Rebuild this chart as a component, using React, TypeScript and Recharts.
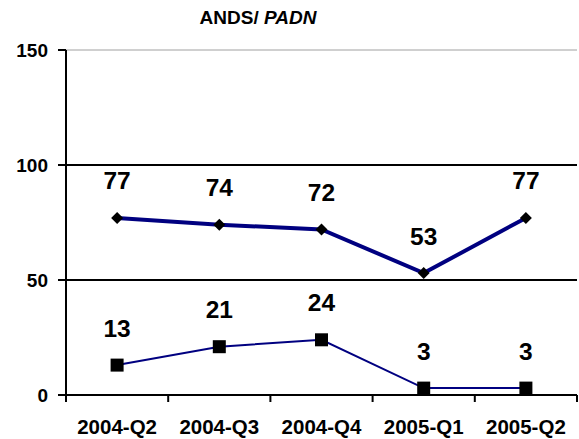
import React from 'react'
import { LineChart, Line, XAxis, YAxis, ReferenceLine, LabelList } from 'recharts'

const quarters = ['2004-Q2', '2004-Q3', '2004-Q4', '2005-Q1', '2005-Q2']
const andsValues = [77, 74, 72, 53, 77]
const padnValues = [13, 21, 24, 3, 3]
const yTicks = [0, 50, 100, 150]

const W = 579
const H = 439
const M = { top: 50, right: 2, left: 6, bottom: 14 }
const Y_W = 60
const FONT = '"Liberation Sans", Arial, sans-serif'
const NAVY = '#000080'

const data = quarters.map((q, i) => ({ q, ands: andsValues[i], padn: padnValues[i] }))
const band = (W - M.left - M.right - Y_W) / quarters.length

const Diamond = ({ cx, cy }: any) => (
  <path d={`M${cx},${cy - 6} L${cx + 6},${cy} L${cx},${cy + 6} L${cx - 6},${cy} Z`} fill="#000" />
)

const Square = ({ cx, cy }: any) => <rect x={cx - 6.5} y={cy - 6.5} width={13} height={13} fill="#000" />

const ValueLabel = ({ x, y, value }: any) => (
  <text x={x} y={y - 37} textAnchor="middle" dominantBaseline="central" fontFamily={FONT} fontWeight="bold" fontSize={24.5} fill="#000">
    {value}
  </text>
)

const QuarterTick = ({ x, y, payload, index }: any) => (
  <g>
    <line x1={x - band / 2} x2={x - band / 2} y1={y - 8} y2={y - 1} stroke="#000" strokeWidth={2} />
    {index === quarters.length - 1 && (
      <line x1={x + band / 2} x2={x + band / 2} y1={y - 8} y2={y - 1} stroke="#000" strokeWidth={2} />
    )}
    <text x={x} y={y} dy={31} textAnchor="middle" fontFamily={FONT} fontWeight="bold" fontSize={20.5} fill="#000">
      {payload.value}
    </text>
  </g>
)

export default function App() {
  return (
    <div style={{ position: 'absolute', left: 0, top: 0, width: W, height: H, background: '#fff' }}>
      <div
        style={{
          position: 'absolute',
          left: 0,
          top: 7,
          width: 516,
          textAlign: 'center',
          fontFamily: FONT,
          fontWeight: 'bold',
          fontSize: 19,
          lineHeight: '22px',
          color: '#000',
        }}
      >
        ANDS/ <i>PADN</i>
      </div>
      <LineChart width={W} height={H} data={data} margin={M}>
        <XAxis
          dataKey="q"
          height={30}
          padding={{ left: band / 2, right: band / 2 }}
          axisLine={{ stroke: '#000', strokeWidth: 2 }}
          tickLine={false}
          tick={<QuarterTick />}
          interval={0}
        />
        <YAxis
          width={Y_W}
          domain={[0, 150]}
          ticks={yTicks}
          interval={0}
          axisLine={{ stroke: '#000', strokeWidth: 2 }}
          tickLine={{ stroke: '#000', strokeWidth: 2 }}
          tickSize={8}
          tickMargin={10}
          tick={{ fill: '#000', fontFamily: FONT, fontWeight: 'bold', fontSize: 19 }}
        />
        <ReferenceLine y={150} stroke="#a0a0a0" strokeWidth={1} />
        <ReferenceLine y={100} stroke="#000" strokeWidth={2} />
        <ReferenceLine y={50} stroke="#000" strokeWidth={2} />
        <Line
          dataKey="ands"
          stroke={NAVY}
          strokeWidth={4}
          dot={<Diamond />}
          activeDot={false}
          isAnimationActive={false}
        >
          <LabelList dataKey="ands" content={<ValueLabel />} />
        </Line>
        <Line
          dataKey="padn"
          stroke={NAVY}
          strokeWidth={2}
          dot={<Square />}
          activeDot={false}
          isAnimationActive={false}
        >
          <LabelList dataKey="padn" content={<ValueLabel />} />
        </Line>
      </LineChart>
    </div>
  )
}
